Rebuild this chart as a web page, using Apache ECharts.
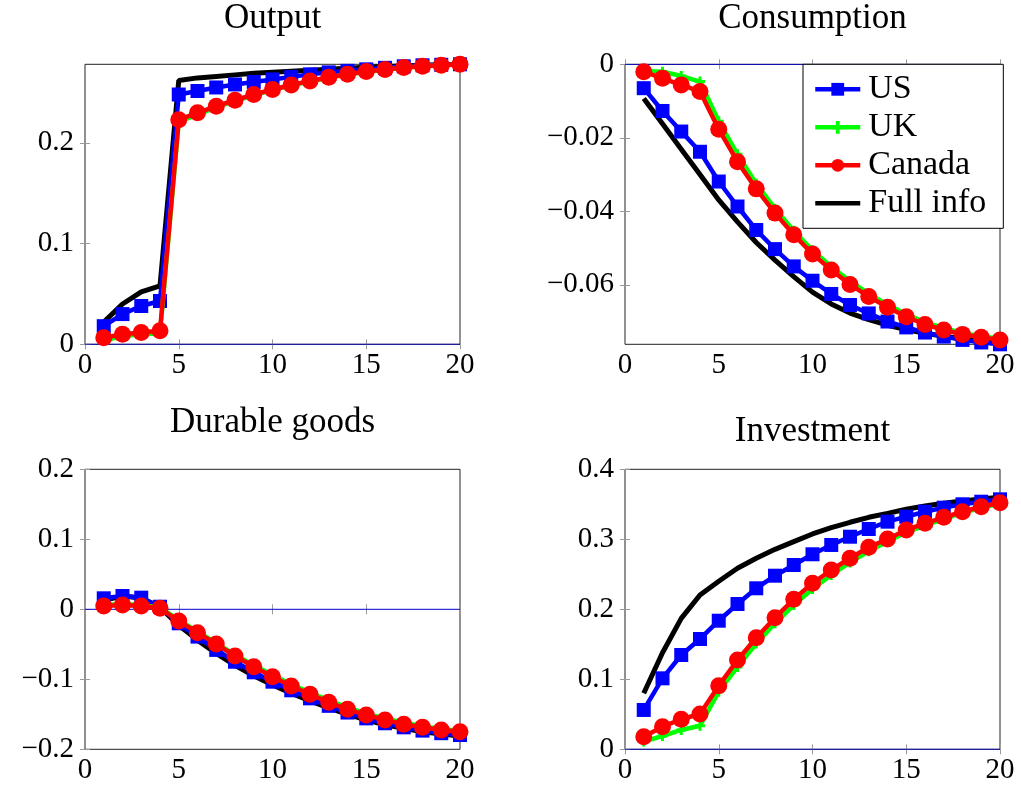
<!DOCTYPE html>
<html><head><meta charset="utf-8">
<script src="https://cdn.jsdelivr.net/npm/echarts@6/dist/echarts.min.js"></script>
<style>html,body{margin:0;padding:0;background:#fff}#c{width:1021px;height:789px}</style>
</head><body><div id="c"></div><script>
// ---------- data ----------
const periods = [1,2,3,4,5,6,7,8,9,10,11,12,13,14,15,16,17,18,19,20];
const seriesNames = ['US', 'UK', 'Canada', 'Full info'];
const panelTitles = ['Output', 'Consumption', 'Durable goods', 'Investment'];
const xTicks = [0, 5, 10, 15, 20];
const zeroLineX = [0, 20];

const outputUS     = [0.018,0.030,0.038,0.043,0.248,0.2515,0.255,0.258,0.2605,0.263,0.2655,0.268,0.270,0.2715,0.273,0.2745,0.276,0.277,0.2775,0.278];
const outputUK     = [0.004,0.008,0.010,0.011,0.221,0.228,0.2355,0.2415,0.2475,0.2525,0.257,0.261,0.2648,0.2678,0.2705,0.2725,0.2745,0.276,0.277,0.2778];
const outputCanada = [0.0065,0.0100,0.0118,0.0135,0.223,0.2298,0.2364,0.2424,0.248,0.253,0.2575,0.2615,0.2652,0.2681,0.2708,0.2728,0.2748,0.2761,0.2771,0.278];
const outputFull   = [0.022,0.040,0.052,0.058,0.262,0.2645,0.266,0.2675,0.269,0.270,0.271,0.272,0.273,0.274,0.275,0.2757,0.2764,0.277,0.2775,0.278];

const consUS     = [-0.0065,-0.0127,-0.0183,-0.0238,-0.0319,-0.0387,-0.0451,-0.0503,-0.055,-0.0589,-0.0625,-0.0655,-0.0678,-0.070,-0.0716,-0.073,-0.0741,-0.075,-0.0757,-0.0762];
const consUK     = [-0.0018,-0.0020,-0.0032,-0.0047,-0.0155,-0.0245,-0.0325,-0.0393,-0.0453,-0.0506,-0.0551,-0.059,-0.0624,-0.0654,-0.068,-0.0702,-0.0718,-0.0731,-0.074,-0.0747];
const consCanada = [-0.002,-0.0038,-0.0056,-0.0074,-0.0177,-0.0265,-0.0339,-0.0405,-0.0464,-0.0516,-0.056,-0.0599,-0.0632,-0.0661,-0.0687,-0.0708,-0.0723,-0.0735,-0.0743,-0.075];
const consFull   = [-0.0093,-0.0162,-0.0231,-0.030,-0.0369,-0.0429,-0.0485,-0.0533,-0.0578,-0.062,-0.0652,-0.0677,-0.0695,-0.071,-0.0722,-0.0732,-0.074,-0.0747,-0.0752,-0.0757];

const durUS     = [0.0157,0.019,0.0166,0.0037,-0.020,-0.039,-0.058,-0.0749,-0.090,-0.1034,-0.1157,-0.1272,-0.1379,-0.1475,-0.1558,-0.1628,-0.1686,-0.1733,-0.177,-0.1796];
const durUK     = [0.006,0.0075,0.006,0.0025,-0.015,-0.032,-0.048,-0.065,-0.080,-0.094,-0.107,-0.119,-0.130,-0.140,-0.149,-0.156,-0.162,-0.167,-0.171,-0.174];
const durCanada = [0.0047,0.0061,0.0047,0.0014,-0.0167,-0.0334,-0.0496,-0.0667,-0.082,-0.0963,-0.1096,-0.1214,-0.1329,-0.1429,-0.151,-0.158,-0.1643,-0.1686,-0.1724,-0.1748];
const durFull   = [0.013,0.019,0.016,0.003,-0.023,-0.044,-0.063,-0.080,-0.095,-0.108,-0.120,-0.131,-0.141,-0.150,-0.158,-0.165,-0.170,-0.175,-0.178,-0.181];

const invUS     = [0.0562,0.1014,0.1347,0.1576,0.1837,0.2076,0.230,0.248,0.2633,0.2786,0.2919,0.3037,0.3147,0.3252,0.3323,0.3394,0.3452,0.350,0.3537,0.3571];
const invUK     = [0.011,0.019,0.0276,0.0337,0.0823,0.1177,0.151,0.180,0.206,0.229,0.249,0.267,0.283,0.297,0.310,0.320,0.329,0.338,0.345,0.351];
const invCanada = [0.018,0.0323,0.0429,0.0504,0.0909,0.1276,0.1594,0.188,0.2143,0.2371,0.2561,0.2729,0.2886,0.3004,0.3133,0.3229,0.3314,0.3394,0.3466,0.3523];
const invFull   = [0.080,0.138,0.187,0.2204,0.2400,0.2586,0.2729,0.2857,0.2966,0.3076,0.3166,0.3243,0.3314,0.3371,0.3429,0.3476,0.3514,0.3547,0.3576,0.360];

const outputYTicks = [0, 0.1, 0.2];
const consYTicks   = [0, -0.02, -0.04, -0.06];
const durYTicks    = [-0.2, -0.1, 0, 0.1, 0.2];
const invYTicks    = [0, 0.1, 0.2, 0.3, 0.4];

const yRanges = [[0, 0.278], [-0.0762, 0], [-0.2, 0.2], [0, 0.4]];

// ---------- layout ----------
const FONT = "'Liberation Serif', 'DejaVu Serif', serif";
const grids = [
  {left: 85,  top: 64.3,  width: 375, height: 280},
  {left: 625, top: 64.3,  width: 375, height: 280},
  {left: 85,  top: 469.3, width: 375, height: 280},
  {left: 625, top: 469.3, width: 375, height: 280}
];
const titlePos = [[272.5, 1.0], [812.5, 1.0], [272.5, 405.0], [812.5, 414.4]];

const panels = [
  {us: outputUS, uk: outputUK, ca: outputCanada, full: outputFull, yTicks: outputYTicks},
  {us: consUS,   uk: consUK,   ca: consCanada,   full: consFull,   yTicks: consYTicks},
  {us: durUS,    uk: durUK,    ca: durCanada,    full: durFull,    yTicks: durYTicks},
  {us: invUS,    uk: invUK,    ca: invCanada,    full: invFull,    yTicks: invYTicks}
];

const pair = arr => periods.map((t, i) => [t, arr[i]]);
const fmt = v => v < 0 ? '\u2212' + String(+Math.abs(v).toFixed(4)) : String(+v.toFixed(4));
const PLUS = 'path://M3.5,0H6.5V3.5H10V6.5H6.5V10H3.5V6.5H0V3.5H3.5Z';

const xAxes = [], yAxes = [], series = [];
panels.forEach((p, g) => {
  const tickStyle = {show: true, inside: true, length: 5, lineStyle: {color: '#9a9a9a', width: 1}};
  ['bottom', 'top'].forEach(pos => {
    xAxes.push({
      gridIndex: g, type: 'value', position: pos, min: 0, max: 20, interval: 5,
      axisLine: {show: false}, splitLine: {show: false},
      axisTick: Object.assign({}, tickStyle, {customValues: xTicks}),
      axisLabel: {show: pos === 'bottom', customValues: xTicks, fontFamily: FONT, fontSize: 29, color: '#000', margin: 7}
    });
  });
  ['left', 'right'].forEach(pos => {
    yAxes.push({
      gridIndex: g, type: 'value', position: pos, min: yRanges[g][0], max: yRanges[g][1],
      axisLine: {show: false}, splitLine: {show: false},
      axisTick: Object.assign({}, tickStyle, {customValues: p.yTicks}),
      axisLabel: {show: pos === 'left', customValues: p.yTicks, formatter: fmt, fontFamily: FONT, fontSize: 29, color: '#000', margin: 11}
    });
  });
  const ax = {xAxisIndex: 2 * g, yAxisIndex: 2 * g};
  series.push(Object.assign({
    name: 'zero', type: 'line', data: zeroLineX.map(x => [x, 0]), symbol: 'none', z: 1, silent: true,
    lineStyle: {color: '#0000cc', width: 1}, itemStyle: {color: '#0000cc'}
  }, ax));
  series.push(Object.assign({
    name: 'Full info', type: 'line', data: pair(p.full), symbol: 'none', z: 2,
    lineStyle: {color: '#000', width: 5}, itemStyle: {color: '#000'}
  }, ax));
  series.push(Object.assign({
    name: 'US', type: 'line', data: pair(p.us), symbol: 'rect', symbolSize: 14, z: 3,
    lineStyle: {color: '#0000ff', width: 4.5}, itemStyle: {color: '#0000ff'}
  }, ax));
  series.push(Object.assign({
    name: 'UK', type: 'line', data: pair(p.uk), symbol: PLUS, symbolSize: 10, z: 4,
    lineStyle: {color: '#00ff00', width: 4.5}, itemStyle: {color: '#00ff00'}
  }, ax));
  series.push(Object.assign({
    name: 'Canada', type: 'line', data: pair(p.ca), symbol: 'circle', symbolSize: 17, z: 5,
    lineStyle: {color: '#ff0000', width: 4.5}, itemStyle: {color: '#ff0000'}
  }, ax));
});

const chart = echarts.init(document.getElementById('c'), null, {renderer: 'canvas'});
chart.setOption({
  animation: false,
  backgroundColor: '#fff',
  title: panelTitles.map((t, i) => ({
    text: t, left: titlePos[i][0], top: titlePos[i][1], textAlign: 'center', padding: 0,
    textStyle: {fontFamily: FONT, fontSize: 35, fontWeight: 'normal', color: '#000'}
  })),
  grid: grids.map(g => Object.assign({show: true, borderColor: '#222', borderWidth: 1, backgroundColor: 'transparent', containLabel: false}, g)),
  xAxis: xAxes,
  yAxis: yAxes,
  legend: {
    data: [
      {name: 'US'}, {name: 'UK'}, {name: 'Canada'},
      {name: 'Full info', itemStyle: {opacity: 0}}
    ],
    orient: 'vertical', left: 803, top: 64.3,
    itemWidth: 45, itemHeight: 16, itemGap: 0, padding: [6, 17, 6, 10],
    borderColor: '#000', borderWidth: 1, borderRadius: 0, backgroundColor: '#fff', z: 10,
    selectedMode: false,
    lineStyle: {width: 4.5},
    textStyle: {fontFamily: FONT, fontSize: 34, lineHeight: 38, color: '#000', padding: [0, 0, 0, 3]}
  },
  series: series
});
</script></body></html>
